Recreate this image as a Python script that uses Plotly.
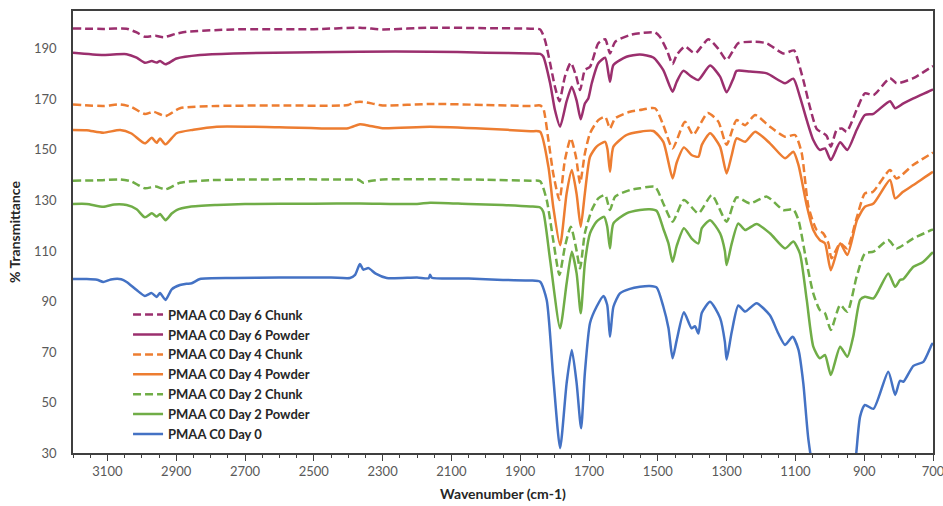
import plotly.graph_objects as go

# FTIR spectra of PMAA C0 samples (stacked with vertical offsets)

day0_wn = [3200, 3160, 3130, 3112, 3090, 3060, 3044, 3015, 2991, 2971, 2957, 2947, 2931, 2913, 2889, 2870, 2855, 2831,
           2734, 2600, 2450, 2395, 2380, 2366, 2356, 2341, 2320, 2288, 2200, 2166, 2162, 2157, 2050, 1950, 1870, 1842,
           1823, 1804, 1784, 1765, 1750, 1736, 1723, 1712, 1697, 1678, 1658, 1647, 1639, 1629, 1610, 1581, 1552, 1523,
           1503, 1484, 1469, 1457, 1445, 1424, 1402, 1392, 1382, 1372, 1348, 1319, 1305, 1300, 1285, 1266, 1246, 1213,
           1174, 1150, 1130, 1108, 1091, 1077, 1062, 1040, 1000, 960, 930, 912, 898, 873, 830, 810, 796, 786, 757, 728,
           704, 700]
day0_t = [98.9, 98.9, 98.6, 97.7, 98.7, 98.8, 97.7, 94.5, 92.2, 93.3, 91.8, 93.3, 90.6, 94.8, 96.5, 97.0, 97.2, 98.9,
          99.3, 99.5, 99.5, 99.3, 100.5, 104.8, 102.6, 103.2, 101.0, 99.3, 99.5, 99.2, 100.6, 99.4, 99.1, 98.5, 98.3, 97.8,
          90.6, 60.2, 31.9, 57.7, 70.8, 57.7, 39.8, 61.7, 81.5, 87.9, 92.2, 88.6, 76.0, 87.9, 93.2, 95.0, 95.8, 96.1,
          95.5, 88.0, 79.5, 67.5, 74.7, 85.7, 79.4, 80.2, 77.3, 85.5, 89.9, 83.5, 74.0, 67.0, 78.0, 88.4, 86.0, 89.3,
          84.5, 77.4, 72.8, 76.0, 70.8, 57.6, 35.1, 18.0, 8.0, 10.0, 22.0, 44.4, 49.0, 47.5, 62.2, 53.0, 58.6, 58.2, 64.5, 66.1,
          72.8, 73.5]

day2_powder_wn = [3200, 3160, 3112, 3080, 3044, 3015, 2991, 2971, 2957, 2947, 2931, 2913, 2899, 2860, 2782, 2700, 2500,
                  2366, 2200, 2162, 2050, 1950, 1870, 1842, 1833, 1813, 1784, 1765, 1750, 1736, 1724, 1712, 1697, 1678,
                  1656, 1647, 1639, 1629, 1591, 1552, 1523, 1503, 1484, 1469, 1457, 1445, 1424, 1402, 1382, 1372, 1348,
                  1319, 1305, 1300, 1285, 1266, 1246, 1213, 1174, 1130, 1106, 1087, 1067, 1048, 1029, 1014, 997, 970,
                  949, 932, 912, 898, 873, 830, 810, 796, 786, 757, 730, 704, 700]
day2_powder_t = [128.6, 128.6, 127.5, 128.4, 128.2, 126.5, 123.3, 124.9, 123.6, 124.6, 122.2, 124.8, 126.2, 127.5,
                 128.2, 128.6, 128.7, 128.8, 128.6, 129.1, 128.6, 128.2, 127.6, 127.2, 125.5, 106.4, 79.4, 97.2, 109.7,
                 101.1, 85.3, 105.1, 117.0, 121.6, 123.5, 119.6, 111.0, 120.9, 124.9, 126.2, 126.5, 125.8, 118.8, 113.0,
                 105.7, 112.0, 119.0, 115.0, 113.0, 119.0, 122.2, 117.0, 110.0, 104.4, 113.0, 120.9, 118.3, 120.7,
                 117.0, 111.0, 113.7, 109.0, 90.6, 72.1, 67.5, 68.8, 60.9, 72.1, 68.1, 76.0, 90.6, 91.9, 91.2, 101.1,
                 95.8, 98.5, 98.9, 103.7, 105.5, 109.0, 109.5]

day2_chunk_wn = [3200, 3120, 3063, 3030, 2991, 2960, 2931, 2889, 2800, 2700, 2400, 2370, 2356, 2340, 2300, 2162, 2000,
                 1870, 1842, 1823, 1804, 1786, 1770, 1753, 1738, 1726, 1712, 1692, 1673, 1653, 1639, 1624, 1581, 1552,
                 1508, 1484, 1457, 1424, 1382, 1343, 1300, 1271, 1232, 1183, 1135, 1106, 1091, 1067, 1048, 1029, 1014,
                 997, 970, 949, 922, 898, 873, 830, 806, 757, 704, 700]
day2_chunk_t = [137.8, 138.0, 138.3, 137.5, 134.8, 135.5, 134.4, 137.0, 138.0, 138.3, 138.3, 138.2, 137.0, 137.6, 138.3,
                138.4, 138.2, 137.8, 137.6, 130.2, 114.3, 100.5, 111.7, 119.6, 111.5, 103.1, 117.0, 126.2, 130.8, 132.1,
                126.2, 131.5, 134.1, 134.8, 135.4, 128.8, 121.6, 130.2, 124.9, 132.1, 121.6, 131.2, 128.8, 131.5, 126.2,
                126.4, 122.2, 105.1, 93.2, 86.6, 85.3, 78.7, 88.6, 85.9, 99.8, 109.0, 109.7, 114.3, 111.0, 115.0, 118.3,
                118.6]

day4_powder_wn = [3200, 3160, 3112, 3063, 3030, 2991, 2971, 2957, 2947, 2931, 2899, 2850, 2782, 2600, 2400, 2366, 2340,
                  2300, 2162, 2000, 1870, 1842, 1818, 1804, 1784, 1765, 1750, 1736, 1724, 1712, 1697, 1678, 1653, 1646,
                  1639, 1629, 1591, 1552, 1513, 1484, 1457, 1445, 1424, 1402, 1382, 1372, 1348, 1319, 1300, 1285, 1271,
                  1246, 1217, 1174, 1130, 1106, 1091, 1067, 1048, 1029, 1014, 997, 970, 949, 921, 898, 873, 825, 810,
                  787, 757, 704, 700]
day4_powder_t = [157.9, 157.8, 156.8, 157.9, 156.5, 152.6, 154.8, 152.8, 154.5, 152.2, 156.6, 158.0, 159.2, 159.0,
                 158.6, 160.2, 159.6, 158.6, 159.2, 158.4, 157.4, 157.2, 143.3, 127.5, 112.3, 132.8, 142.0, 132.5, 119.6,
                 132.8, 147.3, 151.3, 153.2, 150.0, 141.4, 151.3, 155.9, 157.2, 157.5, 153.2, 138.7, 145.0, 151.0, 148.0,
                 147.3, 152.0, 156.6, 151.3, 140.7, 148.0, 154.6, 153.2, 157.2, 152.6, 146.7, 149.3, 144.0, 128.0, 118.3,
                 114.3, 113.0, 102.4, 113.0, 108.4, 122.2, 127.5, 128.8, 138.1, 130.8, 133.4, 136.1, 141.0, 141.3]

day4_chunk_wn = [3200, 3112, 3063, 3030, 2991, 2966, 2931, 2889, 2782, 2600, 2400, 2385, 2366, 2346, 2300, 2162, 2000,
                 1870, 1842, 1833, 1818, 1804, 1786, 1770, 1753, 1738, 1726, 1712, 1697, 1673, 1653, 1639, 1624, 1581,
                 1552, 1508, 1484, 1457, 1421, 1397, 1355, 1324, 1300, 1271, 1246, 1217, 1174, 1130, 1101, 1082, 1062,
                 1038, 1020, 1004, 995, 970, 950, 921, 898, 875, 825, 806, 758, 704, 700]
day4_chunk_t = [168.0, 167.4, 168.0, 167.0, 164.2, 165.1, 163.4, 166.5, 167.4, 167.6, 167.8, 168.8, 169.1, 168.8, 167.6,
                168.2, 167.8, 167.4, 167.6, 166.5, 153.9, 140.7, 130.2, 146.0, 154.6, 147.3, 136.8, 148.6, 156.6, 161.8,
                163.1, 158.5, 162.5, 165.1, 165.8, 166.5, 159.8, 150.6, 161.2, 156.0, 164.6, 161.2, 152.0, 161.8, 159.8,
                163.8, 159.2, 155.2, 155.9, 149.0, 127.5, 118.3, 117.1, 113.0, 107.1, 113.0, 111.0, 123.5, 132.8, 133.4,
                142.0, 138.7, 144.0, 148.6, 149.0]

day6_powder_wn = [3200, 3112, 3044, 3015, 2991, 2971, 2957, 2947, 2931, 2899, 2831, 2734, 2500, 2366, 2162, 2000, 1870,
                  1842, 1833, 1813, 1799, 1784, 1765, 1750, 1736, 1724, 1712, 1702, 1692, 1673, 1653, 1639, 1629, 1591,
                  1552, 1513, 1484, 1457, 1445, 1426, 1402, 1382, 1348, 1319, 1300, 1280, 1271, 1232, 1183, 1130, 1106,
                  1087, 1067, 1048, 1029, 1014, 997, 970, 949, 922, 898, 873, 825, 810, 786, 757, 704, 700]
day6_powder_t = [188.5, 187.6, 187.9, 186.5, 184.5, 185.2, 184.6, 185.2, 183.9, 186.2, 187.6, 188.2, 188.7, 188.9, 188.9,
                 188.5, 188.2, 188.0, 187.0, 176.4, 165.8, 159.2, 169.3, 175.0, 169.5, 162.1, 168.4, 170.4, 176.4, 184.3,
                 186.5, 177.0, 183.6, 186.9, 187.8, 186.6, 181.6, 173.0, 177.0, 181.3, 179.0, 177.7, 183.4, 179.0, 172.8,
                 178.4, 181.3, 181.0, 180.3, 176.4, 178.2, 171.1, 161.8, 153.9, 150.0, 150.6, 146.0, 153.0, 150.0, 157.9,
                 163.8, 164.3, 169.3, 166.5, 168.4, 170.4, 173.7, 174.0]

day6_chunk_wn = [3200, 3112, 3044, 3015, 2991, 2960, 2937, 2900, 2870, 2734, 2500, 2366, 2300, 2162, 2000, 1870, 1842,
                 1828, 1813, 1799, 1786, 1770, 1753, 1738, 1726, 1712, 1697, 1673, 1653, 1639, 1624, 1581, 1552, 1508,
                 1494, 1474, 1457, 1445, 1421, 1401, 1390, 1353, 1324, 1300, 1280, 1266, 1217, 1183, 1135, 1104, 1096,
                 1077, 1058, 1038, 1019, 1009, 997, 980, 965, 951, 922, 898, 873, 825, 806, 757, 704, 700]
day6_chunk_t = [198.1, 197.9, 198.0, 196.5, 194.8, 195.2, 194.6, 196.0, 196.8, 197.7, 197.8, 198.4, 197.7, 198.4, 198.2,
                198.0, 197.7, 193.5, 184.3, 175.0, 169.3, 179.0, 184.5, 179.5, 173.7, 181.6, 182.9, 192.2, 193.8, 188.2,
                192.8, 195.5, 196.2, 196.5, 194.8, 189.6, 184.0, 187.6, 191.0, 188.9, 188.3, 193.8, 190.0, 185.6, 189.6,
                192.3, 192.8, 192.2, 188.2, 189.4, 186.9, 177.7, 167.1, 158.3, 156.6, 155.5, 151.3, 157.9, 158.5, 157.2,
                165.8, 172.4, 171.7, 178.4, 176.4, 178.4, 182.9, 183.2]

PURPLE = "#9B2F6E"
ORANGE = "#ED7D31"
GREEN = "#70AD47"
BLUE = "#4472C4"
DASHED = "8px,4px"

series = [
    ("PMAA C0 Day 6 Chunk", day6_chunk_wn, day6_chunk_t, PURPLE, DASHED),
    ("PMAA C0 Day 6 Powder", day6_powder_wn, day6_powder_t, PURPLE, "solid"),
    ("PMAA C0 Day 4 Chunk", day4_chunk_wn, day4_chunk_t, ORANGE, DASHED),
    ("PMAA C0 Day 4 Powder", day4_powder_wn, day4_powder_t, ORANGE, "solid"),
    ("PMAA C0 Day 2 Chunk", day2_chunk_wn, day2_chunk_t, GREEN, DASHED),
    ("PMAA C0 Day 2 Powder", day2_powder_wn, day2_powder_t, GREEN, "solid"),
    ("PMAA C0 Day 0", day0_wn, day0_t, BLUE, "solid"),
]

fig = go.Figure()
for name, wn, t, color, dash in series:
    fig.add_trace(go.Scatter(
        x=wn, y=t, mode="lines", name=name,
        line=dict(color=color, width=2.5, dash=dash, shape="spline", smoothing=0.6),
    ))

AXIS_COLOR = "#3F3F3F"
TICK_FONT = dict(family="Lato", size=13, color="#595959")
TITLE_FONT = dict(family="Lato", size=14, color="#262626", weight="bold")

fig.update_layout(
    width=943, height=506,
    margin=dict(l=73, r=10, t=11, b=53),
    paper_bgcolor="white", plot_bgcolor="white",
    showlegend=True,
    legend=dict(
        x=0.064, y=0.347, xanchor="left", yanchor="top",
        bgcolor="rgba(0,0,0,0)", borderwidth=0,
        font=dict(family="Lato", size=13, color="#262626", weight="bold"),
        tracegroupgap=0,
    ),
    xaxis=dict(
        range=[3200, 700], autorange=False, automargin=False,
        tick0=700, dtick=200, ticklabeloverflow="allow",
        ticks="outside", ticklen=6, tickwidth=1.2, tickcolor=AXIS_COLOR,
        minor=dict(dtick=50, tick0=700, ticks="outside", ticklen=3, tickwidth=1.2, tickcolor=AXIS_COLOR),
        showline=True, linecolor=AXIS_COLOR, linewidth=1.5, mirror=True,
        showgrid=False, zeroline=False,
        tickfont=TICK_FONT,
        title=dict(text="Wavenumber (cm-1)", font=TITLE_FONT, standoff=11),
    ),
    yaxis=dict(
        range=[30, 205], autorange=False, automargin=False,
        tick0=30, dtick=20,
        ticks="", ticklabelstandoff=12,
        showline=True, linecolor=AXIS_COLOR, linewidth=1.5, mirror=True,
        showgrid=False, zeroline=False,
        tickfont=TICK_FONT,
        title=dict(text="% Transmittance", font=TITLE_FONT, standoff=10),
    ),
)

fig.write_html("out.html")
